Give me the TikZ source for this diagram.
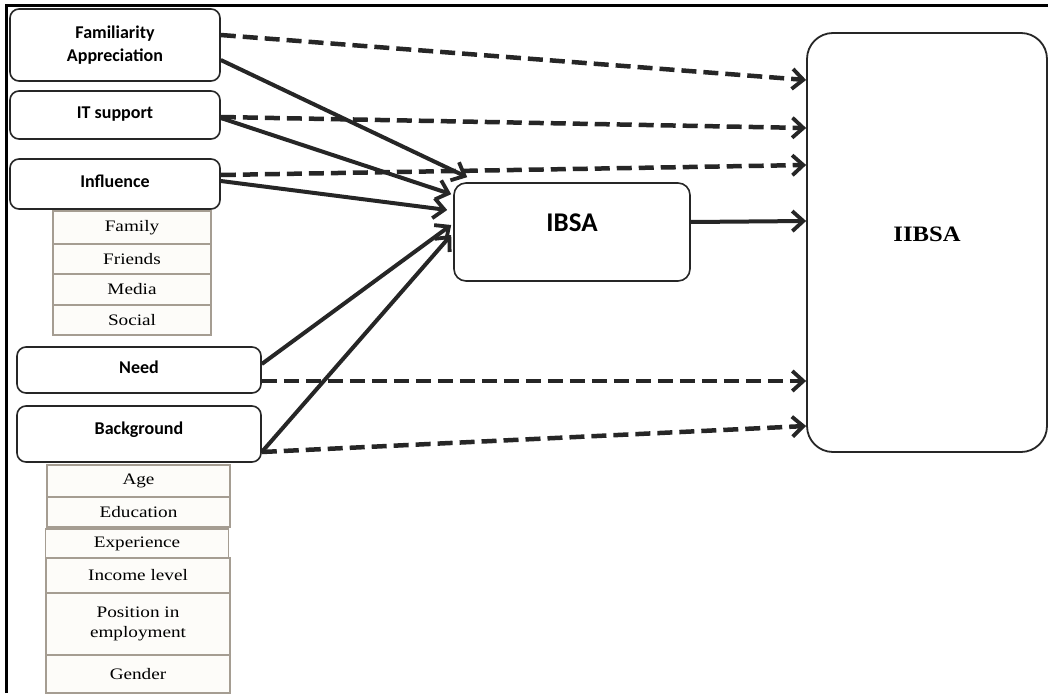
\documentclass[tikz,border=0pt]{standalone}
\usepackage{fontspec}
\setmainfont{Liberation Serif}
\newfontfamily\boxfont{Carlito}
\newfontfamily\tabfont[FakeStretch=1.2]{Liberation Serif}
\newfontfamily\bigserif[FakeStretch=1.12]{Liberation Serif}
\usetikzlibrary{arrows.meta}
\definecolor{ink}{HTML}{262626}
\definecolor{tabline}{HTML}{A59D92}
\definecolor{tabfill}{HTML}{FDFCF9}
\tikzset{
  rbox/.style={draw=ink, line width=1.6pt, rounded corners=9pt, fill=white, align=center, inner sep=0pt,
    font=\boxfont\bfseries\fontsize{18}{23}\selectfont},
  tcell/.style={draw=tabline, line width=1.6pt, fill=tabfill, inner sep=0pt, align=center,
    font=\tabfont\fontsize{16}{20}\selectfont},
  tip/.style={-{Straight Barb[length=11pt,width=20pt,line width=3.8pt]}},
  sol/.style={draw=ink, line width=4pt, tip},
  dsh/.style={draw=ink, line width=4.5pt, dash pattern=on 15pt off 7pt, tip},
}
\begin{document}
\begin{tikzpicture}[x=1pt,y=-1pt]
\useasboundingbox (0,0) rectangle (1048,693);
\fill[white] (0,0) rectangle (1048,693);
% frame
\draw[black, line width=3pt] (6,693) -- (6,6) -- (1048,6);

% left boxes
\node[rbox, minimum width=210pt, minimum height=72pt] (fam) at (115,45) {Familiarity\\Appreciation};
\node[rbox, minimum width=210pt, minimum height=48pt] (it) at (115,115) {\raisebox{4pt}{IT support}};
\node[rbox, minimum width=210pt, minimum height=50pt] (inf) at (115,184) {\raisebox{6pt}{Influence}};

% influence table
\node[tcell, minimum width=158pt, minimum height=33pt] (c1) at (132,227.5) {Family};
\node[tcell, minimum width=158pt, minimum height=30pt] (c2) at (132,259) {Friends};
\node[tcell, minimum width=158pt, minimum height=31pt] (c3) at (132,289.5) {Media};
\node[tcell, minimum width=158pt, minimum height=30pt] (c4) at (132,320) {Social};

\node[rbox, minimum width=244pt, minimum height=46pt] (need) at (139,370) {\raisebox{5pt}{Need}};
\node[rbox, minimum width=244pt, minimum height=56pt] (bg) at (139,434) {\raisebox{12pt}{Background}};

% background table
\node[tcell, minimum width=183pt, minimum height=32pt] (d1) at (138.5,481) {Age};
\node[tcell, minimum width=183pt, minimum height=30pt] (d2) at (138.5,512) {Education};
\node[tcell, minimum width=183pt, minimum height=30pt] (d3) at (137,544) {Experience};
\node[tcell, minimum width=184pt, minimum height=35pt] (d4) at (138,575.5) {Income level};
\node[tcell, minimum width=184pt, minimum height=62pt] (d5) at (138,624) {Position in\\employment};
\node[tcell, minimum width=184pt, minimum height=38pt] (d6) at (138,674) {Gender};

% IBSA
\node[rbox, minimum width=236pt, minimum height=98pt, rounded corners=12pt,
  font=\boxfont\bfseries\fontsize{27}{30}\selectfont] (ibsa) at (572,232) {\raisebox{18pt}{IBSA}};
% IIBSA
\node[draw=ink, line width=1.8pt, rounded corners=26pt, minimum width=240pt, minimum height=419pt,
  inner sep=0pt, font=\bigserif\bfseries\fontsize{22}{26}\selectfont] (iib) at (927,242.5) {\raisebox{17pt}{IIBSA}};

% dashed arrows to IIBSA
\draw[dsh] ([yshift=10pt]fam.east) -- ([yshift=162.5pt]iib.west);
\draw[dsh] ([yshift=-2pt]it.east) -- ([yshift=114.5pt]iib.west);
\draw[dsh] ([yshift=9pt]inf.east) -- ([yshift=77.5pt]iib.west);
\draw[dsh] ([yshift=-11pt]need.east) -- ([yshift=-138.5pt]iib.west);
\draw[dsh] ([yshift=-18pt]bg.east) -- ([yshift=-183.5pt]iib.west);
% solid arrows to IBSA
\draw[sol] ([yshift=-15pt]fam.east) -- ([xshift=14pt,yshift=5pt]ibsa.north west);
\draw[sol] ([yshift=-3pt]it.east) -- ([xshift=-2pt,yshift=-12pt]ibsa.north west);
\draw[sol] ([yshift=3pt]inf.east) -- ([xshift=-6pt,yshift=22pt]ibsa.west);
\draw[sol] ([yshift=6pt]need.east) -- ([xshift=-2pt,yshift=7pt]ibsa.west);
\draw[sol] ([yshift=-18pt]bg.east) -- ([xshift=-2pt,yshift=-3pt]ibsa.west);
% IBSA to IIBSA
\draw[sol] ([yshift=10pt]ibsa.east) -- ([yshift=21.5pt]iib.west);
\end{tikzpicture}
\end{document}
